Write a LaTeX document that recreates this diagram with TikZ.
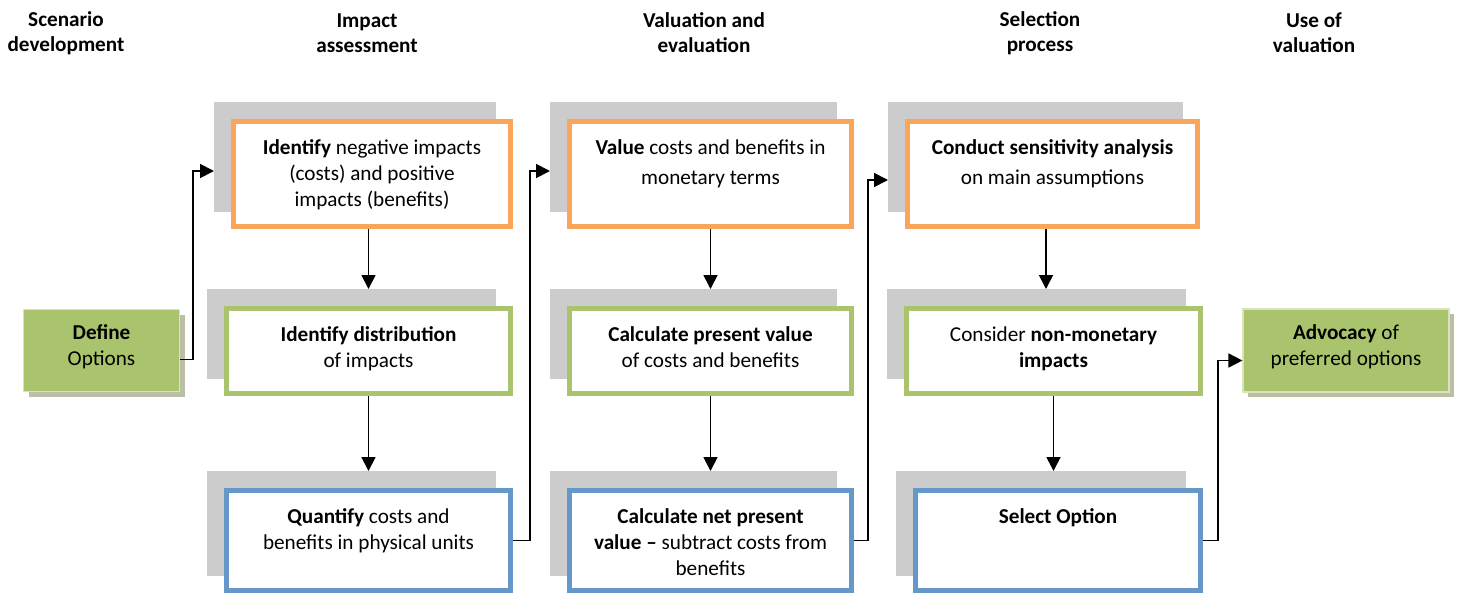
\documentclass[tikz,border=0pt]{standalone}
\usepackage{fontspec}
\setmainfont{Carlito}
\usepackage{xcolor}
\usepackage{tikz}
\usetikzlibrary{positioning, calc, arrows.meta, shadows}

\definecolor{stepOrange}{RGB}{249,166,90}
\definecolor{stepGreen}{RGB}{169,196,108}
\definecolor{stepBlue}{RGB}{101,151,200}
\definecolor{backGray}{RGB}{204,204,204}
\definecolor{optShadow}{RGB}{186,191,166}
\definecolor{optBorder}{RGB}{216,228,188}

% top aligned text inside a box of fixed size
\newcommand{\boxtxt}[4][16.5pt]{\parbox[c][#3][t]{#2}{\centering\rule{0pt}{#1}#4}}

\tikzset{
  stage/.style={draw=#1, line width=2.5pt, fill=white, inner sep=0pt,
    general shadow={fill=backGray, draw=backGray, shadow xshift=-8.5pt, shadow yshift=8.5pt}},
  optbox/.style={draw=optBorder, line width=0.6pt, fill=stepGreen, inner sep=0pt,
    general shadow={fill=optShadow, shadow xshift=2.5pt, shadow yshift=-2.5pt}},
  header/.style={font=\fontsize{10.6}{12.5}\selectfont\bfseries, align=center},
  flow/.style={line width=0.9pt, -{Triangle[length=7pt,width=7pt]}}
}

\begin{document}
\begin{tikzpicture}[x=0.5pt, y=-0.5pt, font=\fontsize{10.6}{13}\selectfont]
    \useasboundingbox (0,0) rectangle (1457,594);

    % Column headers
    \node[header] (hScen) at (66,33) {Scenario\\development};
    \node[header] (hImp) at (367,33) {Impact\\assessment};
    \node[header] (hVal) at (704,33) {Valuation and\\evaluation};
    \node[header] (hSel) at (1040,33) {Selection\\process};
    \node[header] (hUse) at (1314,33) {Use of\\valuation};

    % Start and end
    \node[optbox] (define) at (101.5,350.5) {\boxtxt[15pt]{78pt}{41pt}{\textbf{Define}\\Options}};
    \node[optbox] (advoc) at (1346,350.5) {\boxtxt[15pt]{103pt}{41.5pt}{\textbf{Advocacy} of\\preferred options}};

    % Impact assessment
    \node[stage=stepOrange] (ident) at (372,174) {\boxtxt{138.5pt}{52.5pt}{\textbf{Identify} negative impacts\\(costs) and positive\\impacts (benefits)}};
    \node[stage=stepGreen] (distr) at (368.5,351) {\boxtxt{142pt}{42.5pt}{\textbf{Identify distribution}\\of impacts}};
    \node[stage=stepBlue] (quant) at (368.5,540.5) {\boxtxt{142pt}{50pt}{\textbf{Quantify} costs and\\benefits in physical units}};

    % Valuation and evaluation
    \node[stage=stepOrange] (value) at (710.5,174) {\boxtxt{141pt}{52.5pt}{\textbf{Value} costs and benefits in\\[2pt]monetary terms}};
    \node[stage=stepGreen] (pval) at (710.5,351) {\boxtxt{141pt}{42.5pt}{\textbf{Calculate present value}\\of costs and benefits}};
    \node[stage=stepBlue] (npv) at (710.5,540.5) {\boxtxt{141pt}{50pt}{\textbf{Calculate net present}\\\textbf{value --} subtract costs from\\benefits}};

    % Selection process
    \node[stage=stepOrange] (sens) at (1052.5,174) {\boxtxt{145pt}{52.5pt}{\textbf{Conduct sensitivity analysis}\\[2pt]on main assumptions}};
    \node[stage=stepGreen] (consid) at (1053.5,351) {\boxtxt{147pt}{42.5pt}{Consider \textbf{non-monetary}\\\textbf{impacts}}};
    \node[stage=stepBlue] (select) at (1058,540.5) {\boxtxt{142.5pt}{50pt}{\textbf{Select Option}}};

    % Arrows down the columns
    \draw[flow] (distr.north |- ident.south) -- ([yshift=8.5pt]distr.north);
    \draw[flow] (distr.south) -- ([yshift=8.5pt]quant.north);
    \draw[flow] (pval.north |- value.south) -- ([yshift=8.5pt]pval.north);
    \draw[flow] (pval.south) -- ([yshift=8.5pt]npv.north);
    \draw[flow] ([xshift=-3.25pt]sens.south) -- ([xshift=-3.75pt,yshift=8.5pt]consid.north);
    \draw[flow] (consid.south) -- ($(consid.south |- select.north)+(0,-17)$);

    % Arrows between the columns
    \draw[flow] ([yshift=-4.5pt]define.east) -- ++(13,0) |- ([xshift=-8.5pt,yshift=1.5pt]ident.west);
    \draw[flow] (quant.east) -- ++(17,0) |- ([xshift=-8.5pt,yshift=1.5pt]value.west);
    \draw[flow] (npv.east) -- ++(14,0) |- ([xshift=-8.5pt,yshift=-3pt]sens.west);
    \draw[flow] (select.east) -- ++(15,0) |- ([yshift=-5pt]advoc.west);
\end{tikzpicture}
\end{document}
